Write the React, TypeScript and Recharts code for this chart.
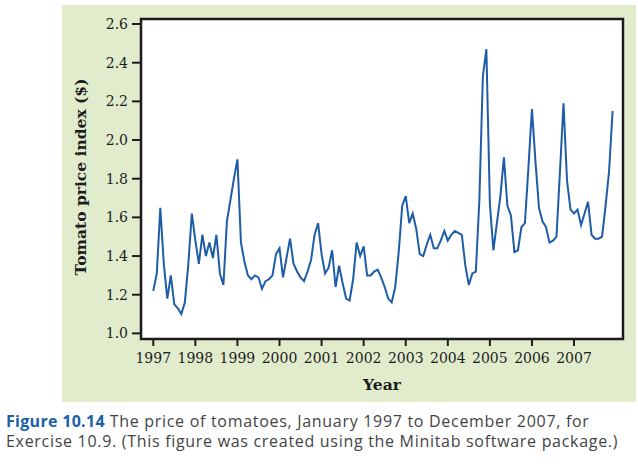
import React from "react";
import { LineChart, Line, XAxis, YAxis, ReferenceArea, CartesianGrid, Label } from "recharts";

const years = [1997, 1998, 1999, 2000, 2001, 2002, 2003, 2004, 2005, 2006, 2007];
const yTicks = [1.0, 1.2, 1.4, 1.6, 1.8, 2.0, 2.2, 2.4, 2.6];

const p1997 = [1.22, 1.31, 1.65, 1.36, 1.18, 1.30, 1.15, 1.13, 1.10, 1.16, 1.36, 1.62];
const p1998 = [1.48, 1.36, 1.51, 1.40, 1.47, 1.39, 1.51, 1.31, 1.25, 1.58, 1.69, 1.80];
const p1999 = [1.90, 1.47, 1.37, 1.30, 1.28, 1.30, 1.29, 1.23, 1.27, 1.28, 1.30, 1.41];
const p2000 = [1.44, 1.29, 1.39, 1.49, 1.36, 1.32, 1.29, 1.27, 1.32, 1.38, 1.51, 1.57];
const p2001 = [1.41, 1.31, 1.34, 1.43, 1.24, 1.35, 1.26, 1.18, 1.17, 1.28, 1.47, 1.40];
const p2002 = [1.45, 1.30, 1.30, 1.32, 1.33, 1.29, 1.24, 1.18, 1.16, 1.24, 1.42, 1.66];
const p2003 = [1.71, 1.57, 1.62, 1.54, 1.41, 1.40, 1.46, 1.51, 1.44, 1.44, 1.48, 1.53];
const p2004 = [1.48, 1.51, 1.53, 1.52, 1.51, 1.35, 1.25, 1.31, 1.32, 1.69, 2.33, 2.47];
const p2005 = [1.67, 1.43, 1.57, 1.71, 1.91, 1.66, 1.61, 1.42, 1.43, 1.55, 1.57, 1.86];
const p2006 = [2.16, 1.89, 1.65, 1.58, 1.55, 1.47, 1.48, 1.50, 1.84, 2.19, 1.79, 1.64];
const p2007 = [1.62, 1.64, 1.56, 1.62, 1.68, 1.51, 1.49, 1.49, 1.50, 1.66, 1.84, 2.15];

const prices = [p1997, p1998, p1999, p2000, p2001, p2002, p2003, p2004, p2005, p2006, p2007];

const data = prices.flatMap((arr, yi) =>
  arr.map((v, m) => ({ t: years[yi] + m / 12, price: v }))
);

const xDomain: [number, number] = [1996.708, 2008.164];
const yDomain: [number, number] = [0.971, 2.626];

const serif = "'DejaVu Serif', 'Liberation Serif', serif";
const ink = "#1c1c1c";

const YLabel = (props: any) => {
  const vb = props.viewBox || { x: 62, y: 19, width: 79, height: 320 };
  const cx = vb.x + 18;
  const cy = vb.y + vb.height / 2 - 2;
  return (
    <text
      x={cx}
      y={cy}
      transform={`rotate(-90 ${cx} ${cy})`}
      textAnchor="middle"
      dominantBaseline="central"
      fontFamily={serif}
      fontWeight="bold"
      fontSize={15.5}
      fill={ink}
    >
      Tomato price index ($)
    </text>
  );
};

export default function App() {
  return (
    <div style={{ position: "absolute", left: 0, top: 0, width: 638, height: 468, background: "#fff" }}>
      <div
        style={{
          position: "absolute",
          left: 62,
          top: 5,
          width: 574,
          height: 397,
          background: "#e1eccc",
        }}
      />
      <div style={{ position: "absolute", left: 0, top: 0 }}>
        <LineChart
          width={638}
          height={468}
          data={data}
          margin={{ top: 19, right: 15, bottom: 69, left: 62 }}
        >
          <CartesianGrid horizontal={false} vertical={false} fill="#ffffff" />
          <XAxis
            dataKey="t"
            type="number"
            domain={xDomain}
            ticks={years}
            allowDataOverflow
            height={60}
            tickSize={7}
            tickMargin={7}
            interval={0}
            axisLine={{ stroke: ink, strokeWidth: 2 }}
            tickLine={{ stroke: ink, strokeWidth: 2 }}
            tick={{ fill: ink, fontFamily: serif, fontSize: 14 }}
            tickFormatter={(v: number) => String(Math.round(v))}
          >
            <Label
              value="Year"
              position="insideBottom"
              offset={9}
              style={{ fontFamily: serif, fontWeight: "bold", fontSize: 15.5, fill: ink }}
            />
          </XAxis>
          <YAxis
            type="number"
            domain={yDomain}
            ticks={yTicks}
            allowDataOverflow
            width={79}
            tickSize={9}
            tickMargin={4}
            interval={0}
            axisLine={{ stroke: ink, strokeWidth: 2 }}
            tickLine={{ stroke: ink, strokeWidth: 2 }}
            tick={{ fill: ink, fontFamily: serif, fontSize: 14 }}
            tickFormatter={(v: number) => v.toFixed(1)}
          >
            <Label content={<YLabel />} />
          </YAxis>
          <ReferenceArea
            x1={xDomain[0]}
            x2={xDomain[1]}
            y1={yDomain[0]}
            y2={yDomain[1]}
            fill="none"
            fillOpacity={0}
            stroke={ink}
            strokeWidth={2.5}
            ifOverflow="extendDomain"
          />
          <Line
            type="linear"
            dataKey="price"
            stroke="#1f5ca8"
            strokeWidth={2}
            dot={false}
            isAnimationActive={false}
          />
        </LineChart>
      </div>
      <div
        style={{
          position: "absolute",
          left: 6,
          top: 411,
          width: 632,
          fontFamily: "'Open Sans', 'Noto Sans', sans-serif",
          fontSize: 16,
          letterSpacing: "0.7px",
          lineHeight: "20px",
          color: "#444444",
          whiteSpace: "nowrap",
        }}
      >
        <div>
          <span style={{ color: "#1b5fa8", fontWeight: "bold", letterSpacing: "0.3px" }}>Figure 10.14</span>{" "}
          The price of tomatoes, January 1997 to December 2007, for
        </div>
        <div>Exercise 10.9. (This figure was created using the Minitab software package.)</div>
      </div>
    </div>
  );
}
